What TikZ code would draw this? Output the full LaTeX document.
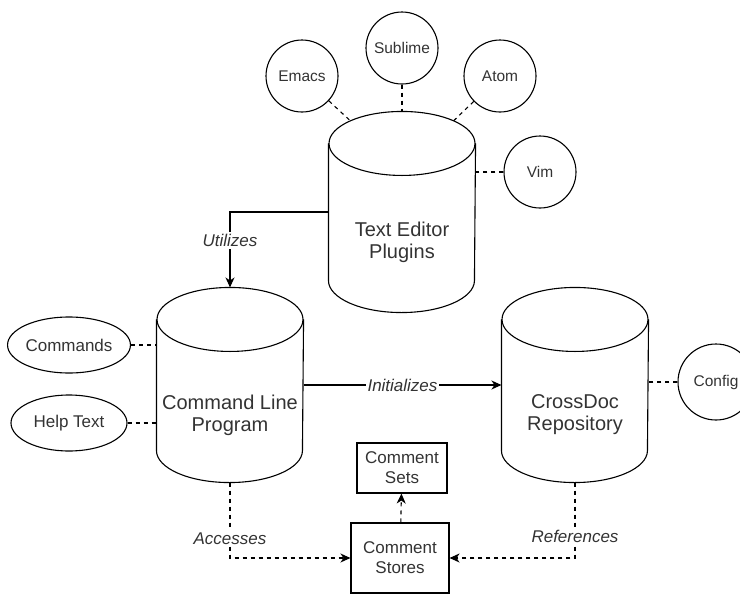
\documentclass[tikz,border=0pt]{standalone}
\usepackage{fontspec}
\setmainfont{Liberation Sans}
\usetikzlibrary{arrows.meta}
\usetikzlibrary{shapes.geometric}
\tikzset{every node/.style={text=black!80},
 drum/.style={minimum width=146pt,minimum height=194pt,inner sep=0pt},
 drumtext/.style={align=center,font=\fontsize{20}{22}\selectfont,yshift=-30pt},
 ball/.style={draw,circle,minimum size=72pt,inner sep=0pt,font=\fontsize{15.5}{18}\selectfont},
 oval/.style={draw,ellipse,minimum width=116pt,minimum height=56pt,inner sep=0pt,font=\fontsize{17}{20}\selectfont},
 store/.style={draw,align=center,inner sep=0pt,font=\fontsize{17}{20}\selectfont},
 tag/.style={fill=white,inner sep=2pt,font=\fontsize{17}{20}\selectfont\itshape},
 link/.style={dash pattern=on 4pt off 4pt},
 flow/.style={-{Stealth[length=10pt,width=9pt,inset=3pt]}},
 }
\newcommand{\drum}[1]{%
 \draw ([yshift=-32pt]#1.north) coordinate (#1-cap) ellipse [x radius=73pt,y radius=32pt];
 \draw ([yshift=-32pt]#1.north west) -- ([yshift=32pt]#1.south west)
  arc [start angle=180,end angle=360,x radius=73pt,y radius=32pt]
  -- ([yshift=-32pt]#1.north east);
}

\begin{document}
\begin{tikzpicture}[x=1pt,y=1pt,line width=1.1pt]
        \useasboundingbox (0,0) rectangle (740,-595);
        \node[drum,minimum height=200pt,label={[drumtext]center:Text Editor\\Plugins}] (tep) at (402,-212) {};
        \node[drum,label={[drumtext]center:Command Line\\Program}] (clp) at (230,-385) {};
        \node[drum,label={[drumtext]center:CrossDoc\\Repository}] (repo) at (575,-385) {};
        \drum{tep}
        \drum{clp}
        \drum{repo}
        \node[ball] (emacs) at (302,-76) {Emacs};
        \node[ball] (sublime) at (402,-48) {Sublime};
        \node[ball] (atom) at (500,-76) {Atom};
        \node[ball] (vim) at (540,-172) {Vim};
        \node[ball,minimum size=76pt] (config) at (716,-382) {Config};
        \node[oval] (cmds) at (69,-345) {Commands};
        \node[oval] (help) at (69,-423) {Help Text};
        \node[store,minimum width=90pt,minimum height=50pt] (sets) at (402,-468) {Comment\\Sets};
        \node[store,minimum width=98pt,minimum height=70pt] (stores) at (400,-558) {Comment\\Stores};
        \draw[link] (emacs) -- ([shift={(135:73pt and 32pt)}]tep-cap);
        \draw[link] (sublime) -- (tep.north);
        \draw[link] (atom) -- ([shift={(45:73pt and 32pt)}]tep-cap);
        \draw[link] (vim) -- (vim -| tep.east);
        \draw[link] (cmds) -- (cmds -| clp.west);
        \draw[link] (help) -- (help -| clp.west);
        \draw[link] (config) -- (config -| repo.east);
        \draw[flow] (tep.west) -| (clp.north) node[tag,pos=0.69] {Utilizes};
        \draw[flow] (clp.east) -- (repo.west) node[tag,midway] {Initializes};
        \draw[flow,link] (clp.south) |- (stores.west) node[tag,pos=0.37] {Accesses};
        \draw[flow,link] (repo.south) |- (stores.east) node[tag,pos=0.36] {References};
        \draw[flow,link] (stores) -- (sets);
    \end{tikzpicture}
\end{document}
